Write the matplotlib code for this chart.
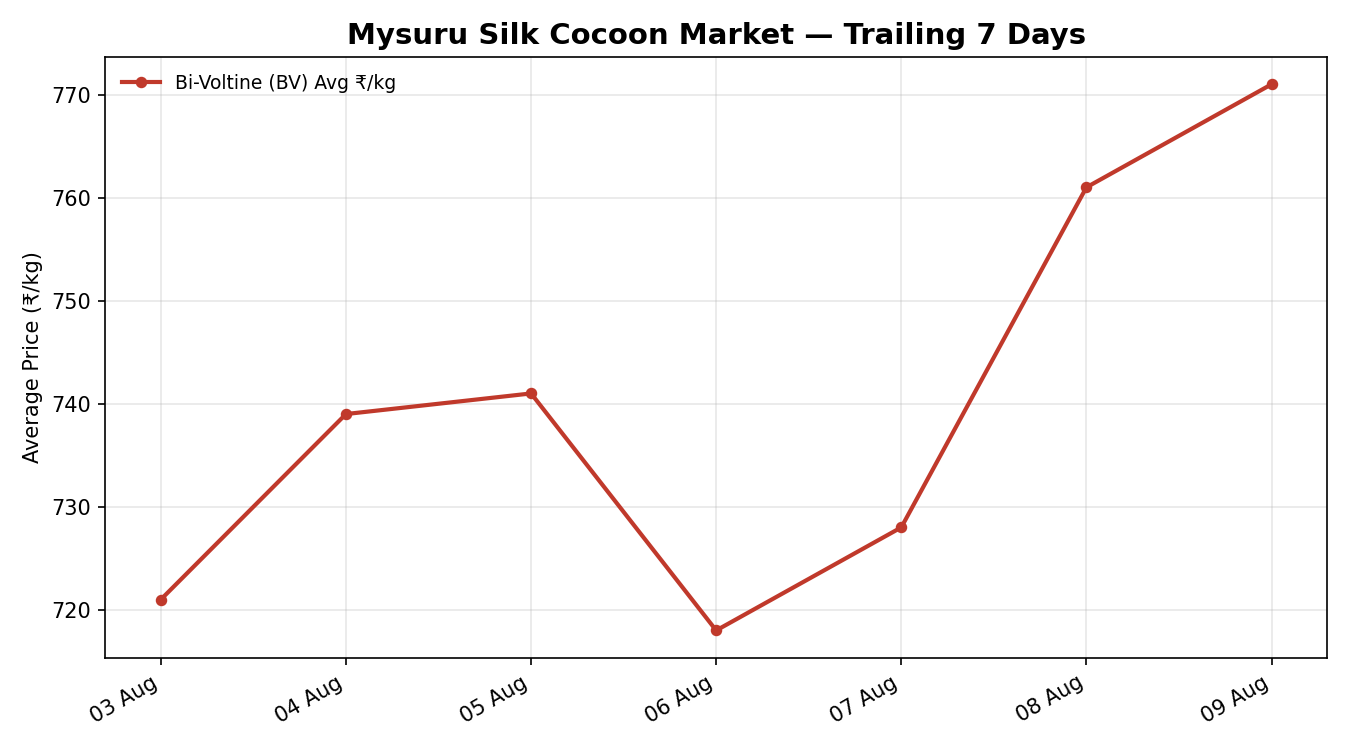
import matplotlib
matplotlib.use("Agg")
import matplotlib.pyplot as plt
import matplotlib.dates as mdates
import numpy as np

dates = np.array(["2024-08-03", "2024-08-04", "2024-08-05", "2024-08-06",
                  "2024-08-07", "2024-08-08", "2024-08-09"], dtype="datetime64[D]")
bv_price = [721, 739, 741, 718, 728, 761, 771]

fig, ax = plt.subplots(figsize=(9, 5), dpi=150)

ax.plot(dates, bv_price, color="#c0392b", linewidth=2.0, marker="o", markersize=4.5,
        label="Bi-Voltine (BV) Avg ₹/kg")

ax.set_title("Mysuru Silk Cocoon Market — Trailing 7 Days", fontsize=14, fontweight="bold")
ax.set_ylabel("Average Price (₹/kg)", fontsize=10)
ax.grid(True, alpha=0.3)
ax.xaxis.set_major_locator(mdates.DayLocator())
ax.xaxis.set_major_formatter(mdates.DateFormatter("%d %b"))
ax.legend(loc="upper left", frameon=False, fontsize=9)
fig.autofmt_xdate()

fig.subplots_adjust(left=0.078, right=0.983, top=0.924, bottom=0.123)
fig.savefig("out.png")
